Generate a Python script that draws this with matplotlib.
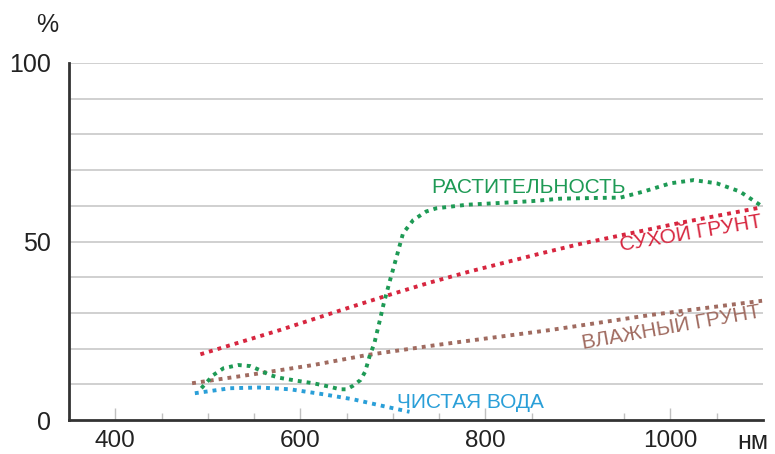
import matplotlib
matplotlib.use("Agg")
import matplotlib.pyplot as plt

plt.rcParams['font.family'] = ['Liberation Sans', 'DejaVu Sans']

# Data (wavelength nm, reflectance %)
veg_x = [493, 506, 517, 533, 546, 556, 567, 578, 596, 614, 632, 643, 650, 657, 665, 670,
         675, 680, 686, 690, 697, 704, 711, 722, 736, 747, 780, 816, 850, 881, 920, 946,
         971, 1000, 1025, 1050, 1075, 1097]
veg_y = [8.9, 12.6, 14.5, 15.4, 15.1, 14.0, 12.6, 11.8, 11.0, 10.3, 9.3, 8.6, 8.6, 9.6, 11.2, 13.5,
         18.0, 21.5, 28.0, 32.5, 39.2, 45.7, 52.3, 56.0, 58.4, 59.3, 60.3, 60.8, 61.3, 62.0, 62.2, 62.3,
         64.0, 66.3, 67.2, 66.3, 64.0, 60.2]

dry_x = [492, 578, 654, 693, 740, 783, 859, 902, 1010, 1097]
dry_y = [18.4, 25.2, 31.6, 34.8, 38.5, 41.6, 46.6, 49.3, 55.2, 59.5]

wet_x = [483, 549, 614, 672, 747, 870, 978, 1099]
wet_y = [10.3, 12.8, 15.4, 18.2, 21.0, 25.2, 29.4, 33.4]

water_x = [486, 524, 556, 589, 625, 657, 693, 718]
water_y = [7.5, 8.9, 9.1, 8.6, 7.2, 5.8, 3.7, 2.3]

x_major = [400, 600, 800, 1000]
x_minor = [450, 500, 550, 650, 700, 750, 850, 950, 1050]
y_labels = [0, 50, 100]
grid_y = [10, 20, 30, 40, 50, 60, 70, 80, 90, 100]

c_veg = '#1e9a55'
c_dry = '#d7263f'
c_wet = '#a06b60'
c_water = '#2a9fd8'

fig = plt.figure(figsize=(7.75, 4.54), dpi=100)
ax = fig.add_axes([69/775, 1-420/454, (763-69)/775, (420-63)/454])
ax.set_xlim(350, 1100)
ax.set_ylim(0, 100)

for g in grid_y:
    ax.axhline(g, color='#c8c8c8', lw=1.2, zorder=1)

dot = (0, (1, 1.3))
lw = 2.8
ax.plot(dry_x, dry_y, color=c_dry, lw=lw, ls=dot, zorder=3)
ax.plot(wet_x, wet_y, color=c_wet, lw=lw, ls=dot, zorder=3)
ax.plot(water_x, water_y, color=c_water, lw=lw, ls=dot, zorder=3)
ax.plot(veg_x, veg_y, color=c_veg, lw=lw, ls=dot, zorder=4)

for s in ['top', 'right']:
    ax.spines[s].set_visible(False)
for s in ['left', 'bottom']:
    ax.spines[s].set_color('#333333')
    ax.spines[s].set_linewidth(2)
    ax.spines[s].set_zorder(5)

ax.set_xticks(x_major)
ax.set_xticks(x_minor, minor=True)
ax.set_xticklabels([str(v) for v in x_major])
ax.tick_params(axis='x', which='major', direction='in', length=9, width=1,
               color='#c0c0c0', labelsize=17.5, pad=7, labelcolor='#222222')
ax.tick_params(axis='x', which='minor', direction='in', length=5, width=1, color='#c0c0c0')
ax.set_yticks(y_labels)
ax.set_yticklabels([str(v) for v in y_labels])
ax.tick_params(axis='y', length=0, labelsize=18, pad=13, labelcolor='#222222')

fig.text(47/775, 1-25/454, '%', fontsize=18, ha='center', va='center', color='#222222')
fig.text(753/775, 1-442/454, 'нм', fontsize=18, ha='center', va='center', color='#222222')

ax.text(847, 65.2, 'РАСТИТЕЛЬНОСТЬ', color=c_veg, fontsize=15, ha='center', va='center')
ax.text(1022, 52.2, 'СУХОЙ ГРУНТ', color=c_dry, fontsize=15, ha='center', va='center',
        rotation=9.6, rotation_mode='anchor')
ax.text(1001, 25.8, 'ВЛАЖНЫЙ ГРУНТ', color=c_wet, fontsize=15, ha='center', va='center',
        rotation=10.1, rotation_mode='anchor')
ax.text(704, 4.85, 'ЧИСТАЯ ВОДА', color=c_water, fontsize=15, ha='left', va='center')

fig.savefig('out.png', dpi=100)
